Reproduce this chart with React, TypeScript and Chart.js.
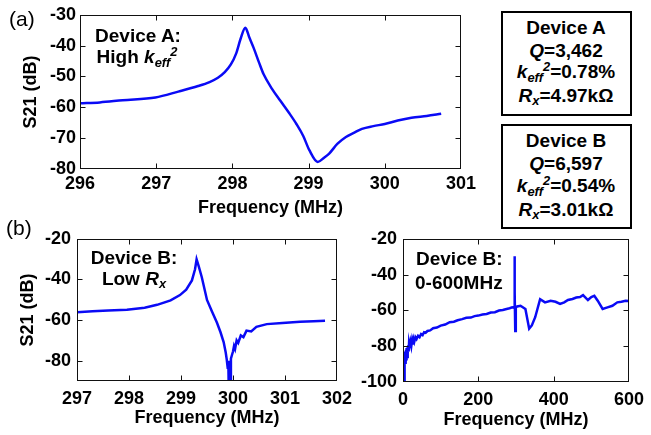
import React, { useEffect, useRef } from "react";
import { Chart, registerables } from "chart.js";

Chart.register(...registerables);

// ---------- Data ----------
const freqA = [296, 296.26, 296.56, 296.99, 297.29, 297.55, 297.7, 297.81, 297.9, 297.98, 298.05, 298.11, 298.17, 298.22, 298.28, 298.35, 298.41, 298.52, 298.63, 298.74, 298.84, 298.93, 299.01, 299.12, 299.2, 299.27, 299.38, 299.49, 299.6, 299.7, 299.85, 300.0, 300.17, 300.35, 300.55, 300.74];
const s21A = [-58.7, -58.4, -57.7, -56.8, -54.9, -53.1, -51.8, -50.4, -48.6, -46.1, -42.5, -37.6, -34.2, -37.2, -40.8, -45.5, -49.3, -54.0, -57.9, -61.7, -65.4, -69.3, -73.9, -77.7, -76.4, -75.0, -71.8, -69.6, -68.2, -67.0, -66.1, -65.4, -64.3, -63.4, -62.8, -62.1];
const xTicksA = [296, 297, 298, 299, 300, 301];
const yTicksA = [-80, -70, -60, -50, -40, -30];

const freqB = [297, 297.3, 297.6, 297.96, 298.3, 298.54, 298.8, 298.98, 299.1, 299.21, 299.27, 299.3, 299.34, 299.4, 299.5, 299.6, 299.69, 299.76, 299.82, 299.86, 299.88, 299.9, 299.91, 299.915, 299.92, 299.93, 299.94, 299.95, 299.96, 299.98, 300.0, 300.02, 300.04, 300.07, 300.1, 300.15, 300.2, 300.26, 300.35, 300.45, 300.65, 300.95, 301.29, 301.55, 301.77];
const s21B = [-56.1, -55.7, -55.3, -54.9, -53.9, -52.5, -50.3, -47.7, -45.0, -40.5, -35.0, -30.1, -33.5, -38.9, -50.1, -56.0, -61.2, -66.0, -70.8, -76.0, -79.5, -84.0, -80.0, -93.0, -86.0, -95.0, -82.0, -92.0, -79.0, -77.2, -75.5, -72.8, -74.2, -70.0, -71.2, -67.6, -68.4, -65.2, -65.6, -63.3, -62.0, -61.4, -60.8, -60.6, -60.4];
const xTicksB = [297, 298, 299, 300, 301, 302];
const yTicksB = [-80, -60, -40, -20];

const freqC = [0, 0.5, 1, 1.5, 2, 2.5, 3, 3.5, 4, 4.5, 5, 6, 7, 8, 9, 10, 11, 12, 13, 14, 15, 16, 18, 20, 22, 24, 26, 28, 30, 33, 36, 40, 44, 48, 52, 56, 60, 65, 72, 80, 90, 100, 112, 124, 135, 145, 157, 168, 180, 190, 200, 211, 222, 233, 244, 255, 265, 275, 283, 290, 295, 296, 297, 298, 299, 300, 303, 312, 325, 335, 342, 351, 364, 377, 392, 405, 417, 428, 438, 450, 460, 470, 478, 491, 500, 508, 517, 530, 543, 556, 569, 580, 591, 600];
const s21C = [-100, -90, -98, -86, -96, -88, -99, -85, -93, -84, -91, -83, -90, -82, -88, -81, -86, -80, -84, -79.5, -83, -78.5, -81, -77.8, -80, -76.8, -79, -76, -77.5, -75, -76, -74.2, -75, -73.2, -73.8, -72.2, -72.5, -71.5, -71.2, -70, -69.6, -68.5, -67.9, -66.6, -66.3, -65.5, -64.9, -64.1, -64, -63.2, -62.9, -62.3, -62, -61.2, -61, -60.1, -59.8, -59.2, -58.8, -58.3, -58.5, -29.8, -50, -71.5, -65, -58.5, -57.8, -57.4, -59.2, -70.2, -68.4, -63.8, -53.7, -55.5, -54.6, -55.2, -56.4, -55.5, -54.2, -53.6, -52.8, -52.5, -51.5, -54.2, -52.6, -51.8, -54.6, -59.2, -58.3, -57.4, -55.5, -55.2, -54.6, -54.8];
const xTicksC = [0, 200, 400, 600];
const yTicksC = [-100, -80, -60, -40, -20];

// ---------- Styles ----------
const FONT = "'Liberation Sans', Arial, sans-serif";
const LINE = "#0a0af5";

const framePlugin = {
  id: "frame",
  afterDatasetsDraw(chart: any) {
    const { ctx, chartArea } = chart;
    const { left, right, top, bottom } = chartArea;
    ctx.save();
    ctx.strokeStyle = "#111";
    ctx.lineWidth = 1;
    const L = Math.round(left) + 0.5, R = Math.round(right) - 0.5, T = Math.round(top) + 0.5, B = Math.round(bottom) - 0.5;
    ctx.strokeRect(L, T, R - L, B - T);
    const xs = chart.scales.x, ys = chart.scales.y;
    ctx.beginPath();
    xs.ticks.forEach((t: any) => {
      const p = Math.round(xs.getPixelForValue(t.value)) + 0.5;
      if (p <= L + 1 || p >= R - 1) return;
      ctx.moveTo(p, B); ctx.lineTo(p, B - 5);
      ctx.moveTo(p, T); ctx.lineTo(p, T + 5);
    });
    ys.ticks.forEach((t: any) => {
      const p = Math.round(ys.getPixelForValue(t.value)) + 0.5;
      if (p <= T + 1 || p >= B - 1) return;
      ctx.moveTo(L, p); ctx.lineTo(L + 5, p);
      ctx.moveTo(R, p); ctx.lineTo(R - 5, p);
    });
    ctx.stroke();
    ctx.restore();
  },
};

type PlotCfg = {
  xs: number[]; ys: number[];
  xMin: number; xMax: number; yMin: number; yMax: number;
  xTicks: number[]; yTicks: number[];
  width: number; height: number;
  pad: { left: number; top: number; right: number; bottom: number };
  yWidth: number; xHeight: number;
  yTitle: boolean; yTitlePad: number; xTitlePad: number;
  xTickPad: number; yTickPad: number;
  smooth: boolean;
};

function Plot({ cfg, style }: { cfg: PlotCfg; style: React.CSSProperties }) {
  const ref = useRef<HTMLCanvasElement>(null);
  useEffect(() => {
    const tickFont = { family: FONT, size: 18, weight: "bold" as const };
    const chart = new Chart(ref.current!, {
      type: "line",
      data: {
        datasets: [
          {
            data: cfg.xs.map((x, i) => ({ x, y: cfg.ys[i] })),
            borderColor: LINE,
            borderWidth: 2.5,
            pointRadius: 0,
            cubicInterpolationMode: cfg.smooth ? "monotone" : "default",
            tension: 0,
            fill: false,
          },
        ],
      },
      options: {
        animation: false,
        responsive: false,
        devicePixelRatio: 1,
        layout: { padding: cfg.pad },
        plugins: { legend: { display: false }, tooltip: { enabled: false } },
        scales: {
          x: {
            type: "linear",
            min: cfg.xMin,
            max: cfg.xMax,
            afterBuildTicks: (s: any) => { s.ticks = cfg.xTicks.map((v) => ({ value: v })); },
            afterFit: (s: any) => { s.height = cfg.xHeight; },
            ticks: { font: tickFont, color: "#000", padding: cfg.xTickPad, maxRotation: 0, autoSkip: false },
            grid: { display: false, drawTicks: false },
            border: { display: false },
            title: { display: true, text: "Frequency (MHz)", font: tickFont, color: "#000", padding: { top: 0, bottom: cfg.xTitlePad } },
          },
          y: {
            type: "linear",
            min: cfg.yMin,
            max: cfg.yMax,
            afterBuildTicks: (s: any) => { s.ticks = cfg.yTicks.map((v) => ({ value: v })); },
            afterFit: (s: any) => { s.width = cfg.yWidth; },
            ticks: { font: tickFont, color: "#000", padding: cfg.yTickPad, autoSkip: false },
            grid: { display: false, drawTicks: false },
            border: { display: false },
            title: { display: cfg.yTitle, text: "S21 (dB)", font: tickFont, color: "#000", padding: { top: cfg.yTitlePad, bottom: 0 } },
          },
        },
      } as any,
      plugins: [framePlugin],
    });
    return () => chart.destroy();
  }, []);
  return <canvas ref={ref} width={cfg.width} height={cfg.height} style={{ position: "absolute", ...style }} />;
}

const cfgA: PlotCfg = {
  xs: freqA, ys: s21A, xMin: 296, xMax: 301, yMin: -80, yMax: -30,
  xTicks: xTicksA, yTicks: yTicksA, width: 480, height: 222,
  pad: { left: 0, top: 13, right: 13, bottom: 0 }, yWidth: 80, xHeight: 53,
  yTitle: true, yTitlePad: 20, xTitlePad: 3, xTickPad: 4, yTickPad: 4, smooth: true,
};
const cfgB: PlotCfg = {
  xs: freqB, ys: s21B, xMin: 297, xMax: 302, yMin: -90, yMax: -20,
  xTicks: xTicksB, yTicks: yTicksB, width: 360, height: 213,
  pad: { left: 0, top: 12, right: 23, bottom: 0 }, yWidth: 77, xHeight: 54,
  yTitle: true, yTitlePad: 17, xTitlePad: 6, xTickPad: 7, yTickPad: 6, smooth: false,
};
const cfgC: PlotCfg = {
  xs: freqC, ys: s21C, xMin: 0, xMax: 600, yMin: -100, yMax: -20,
  xTicks: xTicksC, yTicks: yTicksC, width: 311, height: 213,
  pad: { left: 0, top: 16, right: 19, bottom: 0 }, yWidth: 63, xHeight: 53,
  yTitle: false, yTitlePad: 0, xTitlePad: 4, xTickPad: 7, yTickPad: 6, smooth: false,
};

const textBase: React.CSSProperties = {
  position: "absolute",
  fontFamily: FONT,
  fontWeight: "bold",
  fontSize: 19,
  color: "#000",
  whiteSpace: "nowrap",
  lineHeight: 1,
};

function T({ x, y, children, center = true, size, weight }: { x: number; y: number; children: React.ReactNode; center?: boolean; size?: number; weight?: string }) {
  return (
    <div
      style={{
        ...textBase,
        left: x,
        top: y,
        fontSize: size ?? 19,
        fontWeight: (weight as any) ?? "bold",
        transform: center ? "translate(-50%, -50%)" : "translate(0, -50%)",
      }}
    >
      {children}
    </div>
  );
}

const sub: React.CSSProperties = { fontSize: "0.68em", fontStyle: "italic", verticalAlign: "-0.25em" };
const sup: React.CSSProperties = { fontSize: "0.68em", fontStyle: "italic", verticalAlign: "0.55em" };

const Keff = () => (
  <span>
    <i>k</i>
    <span style={sub}>eff</span>
    <span style={sup}>2</span>
  </span>
);
const Rx = () => (
  <span>
    <i>R</i>
    <span style={sub}>x</span>
  </span>
);

const boxStyle: React.CSSProperties = {
  position: "absolute",
  border: "2px solid #000",
  boxSizing: "border-box",
  background: "#fff",
};

export default function App() {
  return (
    <div style={{ position: "fixed", left: 0, top: 0, width: 651, height: 435, background: "#fff", overflow: "hidden" }}>
      <Plot cfg={cfgA} style={{ left: 0, top: 0 }} />
      <Plot cfg={cfgB} style={{ left: 0, top: 222 }} />
      <Plot cfg={cfgC} style={{ left: 340, top: 222 }} />

      <T x={9} y={18} center={false} size={21} weight="normal">(a)</T>
      <T x={6} y={227} center={false} size={21} weight="normal">(b)</T>

      <T x={138} y={35}>Device A:</T>
      <T x={137} y={58}>High <Keff /></T>

      <T x={134} y={257}>Device B:</T>
      <T x={134} y={280}>Low <Rx /></T>

      <T x={416} y={258} center={false}>Device B:</T>
      <T x={415} y={282} center={false}>0-600MHz</T>

      <div style={{ ...boxStyle, left: 501, top: 11, width: 131, height: 105 }} />
      <T x={566} y={27}>Device A</T>
      <T x={566} y={50}><i>Q</i>=3,462</T>
      <T x={566} y={73}><Keff />=0.78%</T>
      <T x={566} y={97}><Rx />=4.97kΩ</T>

      <div style={{ ...boxStyle, left: 501, top: 124, width: 131, height: 105 }} />
      <T x={566} y={140}>Device B</T>
      <T x={566} y={163}><i>Q</i>=6,597</T>
      <T x={566} y={187}><Keff />=0.54%</T>
      <T x={566} y={211}><Rx />=3.01kΩ</T>
    </div>
  );
}
